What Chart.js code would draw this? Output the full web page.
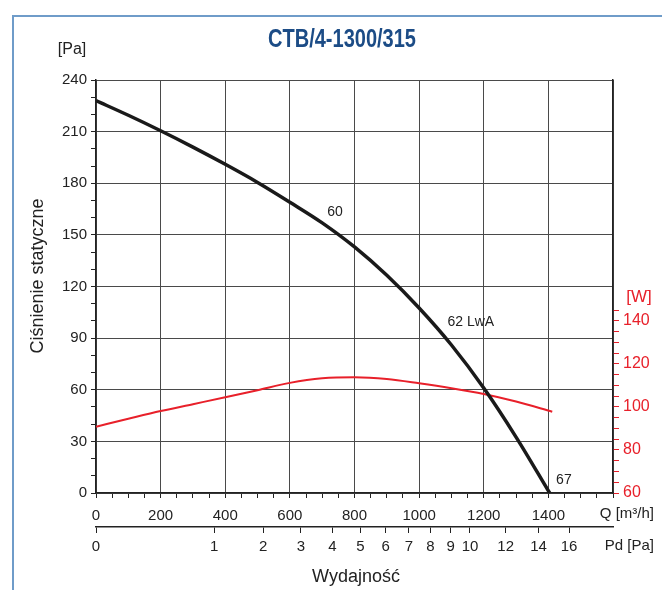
<!DOCTYPE html>
<html>
<head>
<meta charset="utf-8">
<script src="https://cdn.jsdelivr.net/npm/chart.js@4"></script>
<style>
  html, body { margin: 0; padding: 0; background: #fff; }
  canvas { display: block; }
</style>
</head>
<body>
<canvas id="fanChart" width="662" height="590"></canvas>
<script>
// Static pressure curve [Pa] against flow Q [m3/h]
const pressureQ = [0, 100, 200, 300, 400, 500, 600, 700, 800, 900, 1000, 1100, 1200, 1300, 1404];
const pressurePa = [228, 219.5, 210.5, 201, 191, 180.5, 169, 157, 143, 126.5, 107.5, 86, 61, 32.5, 0];

// Power curve [W] against flow Q [m3/h]
const powerQ = [0, 100, 200, 300, 400, 500, 600, 700, 800, 900, 1000, 1100, 1200, 1300, 1412];
const powerW = [90.8, 94.5, 98.1, 101.3, 104.5, 107.8, 111.2, 113.3, 113.8, 113.0, 111.0, 108.7, 106.0, 102.5, 97.8];

// Dynamic pressure axis ticks [Pa] (Pd grows with Q squared)
const pdTicks = [0, 1, 2, 3, 4, 5, 6, 7, 8, 9, 10, 12, 14, 16];
const qAtPd1 = 366;

// Noise level labels along the curve
const noiseLabels = [
    { text: '60', q: 740, p: 163 },
    { text: '62 LwA', q: 1160, p: 99 },
    { text: '67', q: 1448, p: 7.5 }
];

const RED = '#e8202a';
const GRID = '#4a4a4a';
const AXIS = '#222';
const FONT = "'Liberation Sans', Arial, sans-serif";

Chart.defaults.font.family = FONT;
Chart.defaults.color = '#222';

const textPlugin = {
    id: 'textPlugin',
    afterDraw(chart) {
        const ctx = chart.ctx;
        const x = chart.scales.x;
        const y = chart.scales.y;
        ctx.save();

        // frame
        ctx.strokeStyle = '#6f9cc9';
        ctx.lineWidth = 2;
        ctx.beginPath();
        ctx.moveTo(13, 590);
        ctx.lineTo(13, 16);
        ctx.lineTo(662, 16);
        ctx.stroke();

        // title, squeezed to the condensed look
        ctx.fillStyle = '#1c4c86';
        ctx.font = "bold 25px 'Liberation Sans Narrow', " + FONT;
        ctx.textBaseline = 'alphabetic';
        ctx.textAlign = 'left';
        const title = 'CTB/4-1300/315';
        const tw = ctx.measureText(title).width;
        ctx.save();
        ctx.translate(268, 47);
        ctx.scale(148 / tw, 1);
        ctx.fillText(title, 0, 0);
        ctx.restore();

        ctx.fillStyle = '#222';
        ctx.textBaseline = 'middle';
        ctx.font = '16px ' + FONT;
        ctx.textAlign = 'center';
        ctx.fillText('[Pa]', 72, 50);

        ctx.fillStyle = RED;
        ctx.font = '17px ' + FONT;
        ctx.fillText('[W]', 639, 297);

        ctx.fillStyle = '#222';
        ctx.font = '15px ' + FONT;
        ctx.textAlign = 'right';
        ctx.fillText('Q [m\u00B3/h]', 654, 514);
        ctx.fillText('Pd [Pa]', 654, 546);

        ctx.font = '18px ' + FONT;
        ctx.textAlign = 'center';
        ctx.fillText('Wydajność', 356, 577);

        ctx.save();
        ctx.translate(38, 276);
        ctx.rotate(-Math.PI / 2);
        ctx.fillText('Ciśnienie statyczne', 0, 0);
        ctx.restore();

        // noise labels
        ctx.font = '14px ' + FONT;
        noiseLabels.forEach(l => {
            ctx.fillText(l.text, x.getPixelForValue(l.q), y.getPixelForValue(l.p));
        });

        ctx.restore();
    }
};

new Chart(document.getElementById('fanChart'), {
    type: 'line',
    data: {
        datasets: [
            {
                label: 'Ciśnienie statyczne',
                data: pressureQ.map((q, i) => ({ x: q, y: pressurePa[i] })),
                borderColor: '#1a1a1a',
                borderWidth: 3.5,
                pointRadius: 0,
                cubicInterpolationMode: 'monotone',
                xAxisID: 'x',
                yAxisID: 'y'
            },
            {
                label: 'Moc',
                data: powerQ.map((q, i) => ({ x: q, y: powerW[i] })),
                borderColor: RED,
                borderWidth: 2,
                pointRadius: 0,
                cubicInterpolationMode: 'monotone',
                xAxisID: 'x',
                yAxisID: 'y1'
            }
        ]
    },
    options: {
        responsive: false,
        animation: false,
        devicePixelRatio: 1,
        layout: { padding: { top: 80, left: 0, right: 0, bottom: 0 } },
        plugins: {
            legend: { display: false },
            tooltip: { enabled: false }
        },
        scales: {
            x: {
                type: 'linear',
                position: 'bottom',
                weight: 0,
                min: 0,
                max: 1600,
                afterFit: s => { s.height = 34; },
                border: { color: AXIS, width: 1.5 },
                grid: {
                    color: c => (c.tick && c.tick.value % 200 === 0) ? GRID : 'rgba(0,0,0,0)',
                    tickColor: AXIS,
                    tickLength: 5
                },
                ticks: {
                    stepSize: 50,
                    autoSkip: false,
                    maxRotation: 0,
                    padding: 9,
                    font: { size: 15 },
                    callback: v => (v % 200 === 0 && v < 1600) ? v : ''
                }
            },
            pd: {
                type: 'linear',
                position: 'bottom',
                weight: 1,
                min: 0,
                max: 1600,
                afterFit: s => { s.height = 63; },
                afterBuildTicks: s => {
                    s.ticks = pdTicks.map(p => ({ value: qAtPd1 * Math.sqrt(p) }));
                },
                border: { color: AXIS, width: 1.5 },
                grid: {
                    drawOnChartArea: false,
                    tickColor: AXIS,
                    tickLength: 6
                },
                ticks: {
                    autoSkip: false,
                    maxRotation: 0,
                    padding: 5,
                    font: { size: 15 },
                    callback: (v, i) => pdTicks[i]
                }
            },
            y: {
                type: 'linear',
                position: 'left',
                min: 0,
                max: 240,
                afterFit: s => { s.width = 96; },
                border: { color: AXIS, width: 1.5 },
                grid: {
                    color: c => (c.tick && c.tick.value % 30 === 0) ? GRID : 'rgba(0,0,0,0)',
                    tickColor: AXIS,
                    tickLength: 5
                },
                ticks: {
                    stepSize: 10,
                    autoSkip: false,
                    padding: 4,
                    font: { size: 15 },
                    callback: v => (v % 30 === 0) ? v : ''
                }
            },
            y1: {
                type: 'linear',
                position: 'right',
                min: 60,
                max: 252,
                afterFit: s => { s.width = 49; },
                border: { color: AXIS, width: 1.5 },
                grid: {
                    drawOnChartArea: false,
                    tickColor: c => (c.tick && c.tick.value <= 145) ? RED : 'rgba(0,0,0,0)',
                    tickLength: 6
                },
                ticks: {
                    stepSize: 5,
                    autoSkip: false,
                    padding: 4,
                    color: RED,
                    font: { size: 16 },
                    callback: v => (v % 20 === 0 && v <= 140) ? v : ''
                }
            }
        }
    },
    plugins: [textPlugin]
});
</script>
</body>
</html>
